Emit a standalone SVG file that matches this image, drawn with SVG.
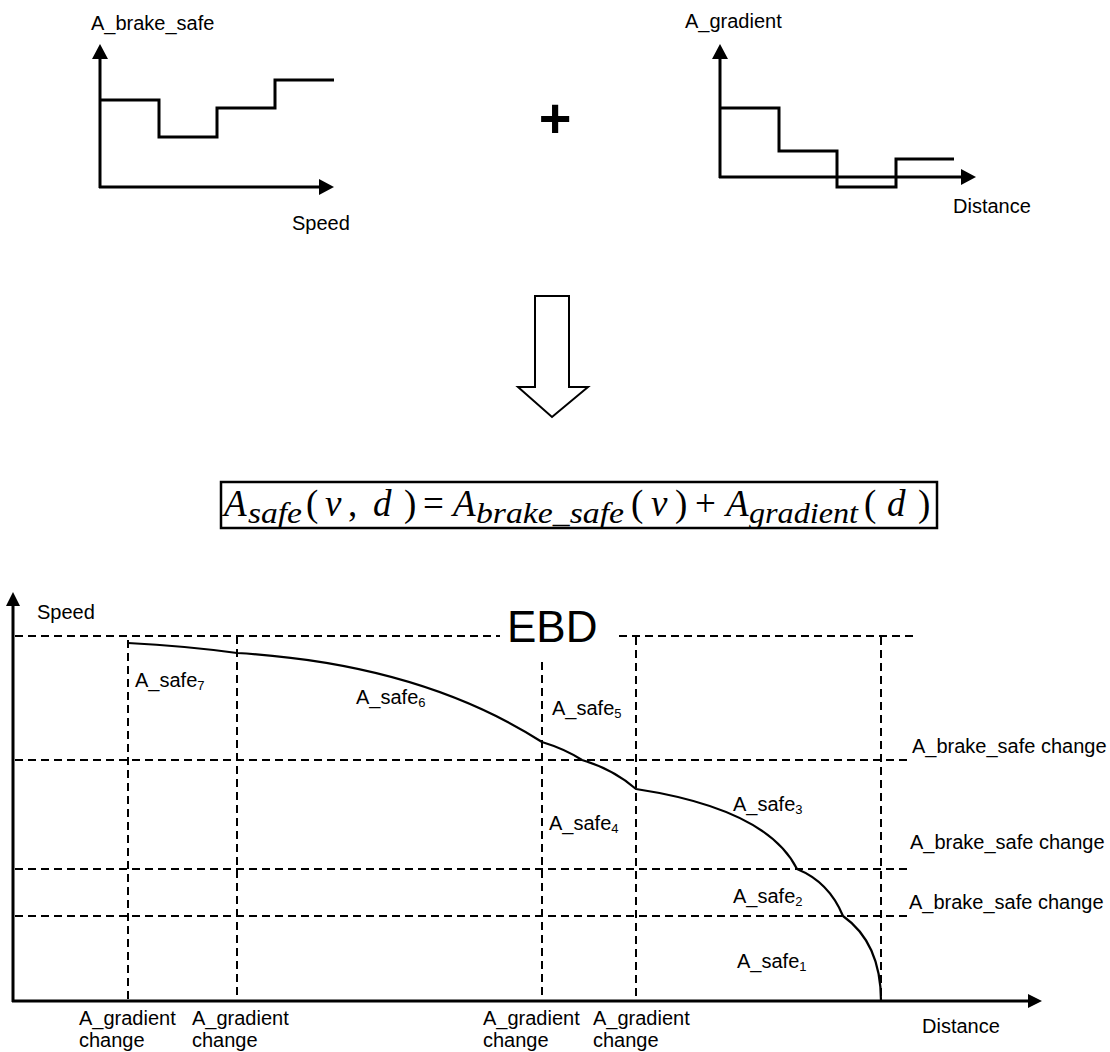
<svg xmlns="http://www.w3.org/2000/svg" width="1110" height="1052" viewBox="0 0 1110 1052">
<style>
text{font-family:"Liberation Sans",Arial,sans-serif;font-size:20px;fill:#000}
.ax{stroke:#000;stroke-width:3;fill:none}
.step{stroke:#000;stroke-width:3;fill:none;stroke-linejoin:miter}
.dash{stroke:#000;stroke-width:2;fill:none;stroke-dasharray:8 5}
.curve{stroke:#000;stroke-width:2.2;fill:none}
.sub{font-size:13px}
.m{font-family:"Liberation Serif","Times New Roman",serif;font-size:37px}
.mi{font-family:"Liberation Serif","Times New Roman",serif;font-size:37px;font-style:italic}
.ms{font-family:"Liberation Serif","Times New Roman",serif;font-size:30px;font-style:italic}
</style>
<defs>
<marker id="ah" markerUnits="userSpaceOnUse" markerWidth="16" markerHeight="16" refX="0" refY="8" orient="auto" viewBox="0 0 15 16">
<path d="M0,0 L15,8 L0,16 z" fill="#000"/>
</marker>
<marker id="ah2" markerUnits="userSpaceOnUse" markerWidth="14" markerHeight="14" refX="0" refY="7" orient="auto" viewBox="0 0 14 14">
<path d="M0,0 L14,7 L0,14 z" fill="#000"/>
</marker>
</defs>
<rect width="1110" height="1052" fill="#fff"/>

<g id="chart-brake">
<text x="91" y="30">A_brake_safe</text>
<line class="ax" x1="100" y1="188" x2="100" y2="59" marker-end="url(#ah)"/>
<line class="ax" x1="99" y1="187" x2="319" y2="187" marker-end="url(#ah)"/>
<polyline class="step" points="100,100 159,100 159,137 217,137 217,108 275,108 275,80 334,80"/>
<text x="292" y="230">Speed</text>
</g>

<g id="plus">
<text x="555" y="137" text-anchor="middle" style="font-size:56px;font-weight:bold">+</text>
</g>

<g id="chart-gradient">
<text x="685" y="28">A_gradient</text>
<line class="ax" x1="720" y1="178" x2="720" y2="59" marker-end="url(#ah)"/>
<line class="ax" x1="719" y1="177" x2="961" y2="177" marker-end="url(#ah)"/>
<polyline class="step" points="720,108 779,108 779,151 837,151 837,187 896,187 896,159 954,159"/>
<text x="953" y="213">Distance</text>
</g>

<g id="down-arrow">
<polygon points="535,296 569,296 569,387 588,387 552,417 518,387 535,387" fill="#fff" stroke="#000" stroke-width="2"/>
</g>

<g id="formula">
<rect x="221" y="482" width="716" height="46" fill="none" stroke="#000" stroke-width="2.5"/>
<text class="mi" x="224" y="516">A</text>
<text class="ms" x="248" y="523" textLength="54" lengthAdjust="spacingAndGlyphs">safe</text>
<text class="m" x="306" y="516">(</text>
<text class="mi" x="325" y="516">v</text>
<text class="m" x="348" y="516">,</text>
<text class="mi" x="373" y="516">d</text>
<text class="m" x="404" y="516">)</text>
<text class="m" x="423" y="516">=</text>
<text class="mi" x="453" y="516">A</text>
<text class="ms" x="476" y="523" textLength="148" lengthAdjust="spacingAndGlyphs">brake_safe</text>
<text class="m" x="631" y="516">(</text>
<text class="mi" x="651" y="516">v</text>
<text class="m" x="675" y="516">)</text>
<text class="m" x="695" y="516">+</text>
<text class="mi" x="726" y="516">A</text>
<text class="ms" x="749" y="523" textLength="109" lengthAdjust="spacingAndGlyphs">gradient</text>
<text class="m" x="864" y="516">(</text>
<text class="mi" x="887" y="516">d</text>
<text class="m" x="918" y="516">)</text>
</g>

<g id="ebd-chart">
<g id="axes">
<line class="ax" x1="13" y1="1002" x2="13" y2="606" marker-end="url(#ah2)"/>
<line class="ax" x1="12" y1="1001" x2="1028" y2="1001" marker-end="url(#ah2)"/>
</g>
<g id="grid">
<line class="dash" x1="15" y1="636" x2="500" y2="636"/>
<line class="dash" x1="619" y1="636" x2="915" y2="636"/>
<line class="dash" x1="15" y1="760" x2="910" y2="760"/>
<line class="dash" x1="15" y1="869" x2="908" y2="869"/>
<line class="dash" x1="15" y1="916" x2="910" y2="916"/>
<line class="dash" x1="128" y1="640" x2="128" y2="1000"/>
<line class="dash" x1="237" y1="636" x2="237" y2="1000"/>
<line class="dash" x1="542" y1="662" x2="542" y2="1000"/>
<line class="dash" x1="636" y1="637" x2="636" y2="1000"/>
<line class="dash" x1="881" y1="637" x2="881" y2="1000"/>
</g>
<g id="ebd-curve">
<path class="curve" d="M128,643 Q186,646 237,653 Q420,664 542,742 Q565,749 582,760 Q613,769 636,789 Q767,809 797,869 Q829,882 843,916 Q881,943 881,1001"/>
</g>
<text x="507" y="642" style="font-size:44px">EBD</text>
<text x="37" y="619">Speed</text>
<text x="135" y="687">A_safe<tspan class="sub" dy="3">7</tspan></text>
<text x="356" y="704">A_safe<tspan class="sub" dy="3">6</tspan></text>
<text x="552" y="715">A_safe<tspan class="sub" dy="3">5</tspan></text>
<text x="549" y="830">A_safe<tspan class="sub" dy="3">4</tspan></text>
<text x="733" y="811">A_safe<tspan class="sub" dy="3">3</tspan></text>
<text x="733" y="903">A_safe<tspan class="sub" dy="3">2</tspan></text>
<text x="737" y="968">A_safe<tspan class="sub" dy="3">1</tspan></text>
<text x="912" y="753">A_brake_safe change</text>
<text x="910" y="849">A_brake_safe change</text>
<text x="909" y="909">A_brake_safe change</text>
<text x="79" y="1025">A_gradient</text>
<text x="79" y="1047">change</text>
<text x="192" y="1025">A_gradient</text>
<text x="192" y="1047">change</text>
<text x="483" y="1025">A_gradient</text>
<text x="483" y="1047">change</text>
<text x="593" y="1025">A_gradient</text>
<text x="593" y="1047">change</text>
<text x="922" y="1033">Distance</text>
</g>
</svg>
